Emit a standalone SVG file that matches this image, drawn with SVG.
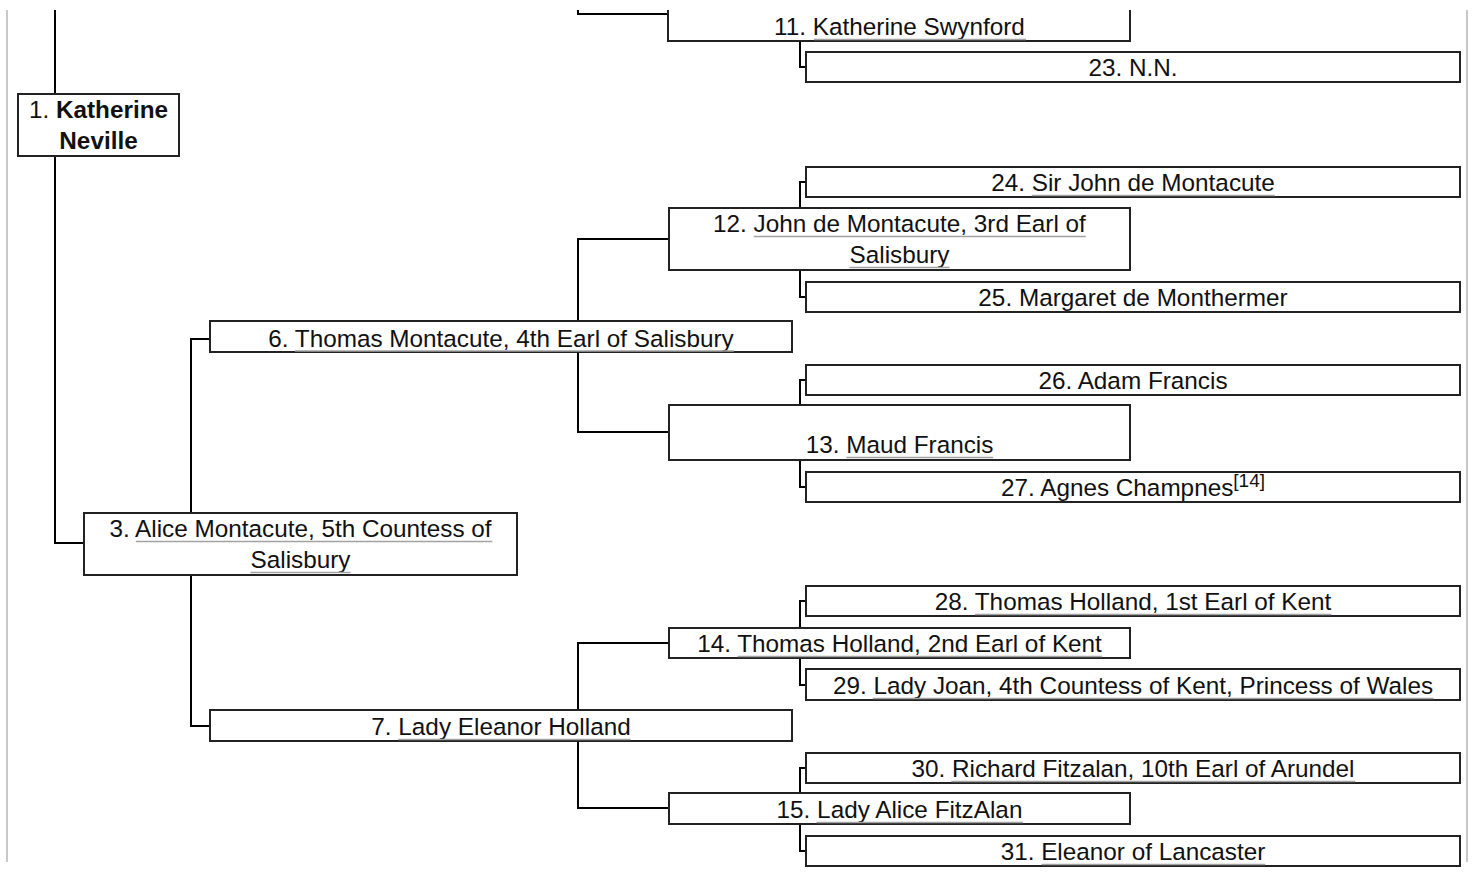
<svg xmlns="http://www.w3.org/2000/svg" width="1473" height="873" viewBox="0 0 1473 873">
<style>
.bx{fill:#fff;stroke:#222;stroke-width:2}
.cn{fill:none;stroke:#000;stroke-width:2}
.bd{fill:none;stroke:#c8c8c8;stroke-width:2}
.t{font-family:"Liberation Sans",Arial,sans-serif;font-size:24.3px;fill:#111;text-anchor:middle}
.b{font-weight:bold}
.ul{stroke:#a2a2a2;stroke-width:1.6}
</style>
<rect width="1473" height="873" fill="#fff"/>
<g id="page-border">
<line class="bd" x1="7" y1="10" x2="7" y2="862"/>
<line class="bd" x1="1467" y1="10" x2="1467" y2="862"/>
</g>
<g id="connectors">
<path class="cn" d="M55,10V93M55,157V543H83"/>
<path class="cn" d="M209,339H191V512M191,576V726H209"/>
<path class="cn" d="M668,239H578V432H668"/>
<path class="cn" d="M668,643H578V808H668"/>
<path class="cn" d="M578,10V14H668"/>
<path class="cn" d="M800,42V67H805"/>
<path class="cn" d="M800,207V182H805M800,271V297H805"/>
<path class="cn" d="M800,404V380H805M800,461V487H805"/>
<path class="cn" d="M800,627V601H805M800,659V685H805"/>
<path class="cn" d="M800,792V768H805M800,825V851H805"/>
</g>
<g id="n1">
<rect class="bx" x="18" y="94" width="161" height="62"/>
<text class="t" x="98.5" y="118">1. <tspan class="b">Katherine</tspan></text>
<text class="t b" x="98.5" y="149">Neville</text>
</g>
<g id="n3">
<rect class="bx" x="84" y="513" width="433" height="62"/>
<text class="t" x="300.5" y="537">3. Alice Montacute, 5th Countess of</text>
<text class="t" x="300.5" y="568">Salisbury</text>
<line class="ul" x1="136" y1="541.5" x2="492.4" y2="541.5"/>
<line class="ul" x1="250.4" y1="572.5" x2="350.6" y2="572.5"/>
</g>
<g id="n6">
<rect class="bx" x="210" y="321" width="582" height="31"/>
<text class="t" x="501" y="347">6. Thomas Montacute, 4th Earl of Salisbury</text>
<line class="ul" x1="295" y1="351" x2="733.9" y2="351"/>
</g>
<g id="n7">
<rect class="bx" x="210" y="710" width="582" height="31"/>
<text class="t" x="501" y="735">7. Lady Eleanor Holland</text>
<line class="ul" x1="398.2" y1="739.5" x2="630.6" y2="739.5"/>
</g>
<g id="n11">
<path class="bx" d="M668,10V41H1130V10"/>
<text class="t" x="899.5" y="35">11. Katherine Swynford</text>
<line class="ul" x1="813.9" y1="39.5" x2="1026.1" y2="39.5"/>
</g>
<g id="n12">
<rect class="bx" x="669" y="208" width="461" height="62"/>
<text class="t" x="899.5" y="232">12. John de Montacute, 3rd Earl of</text>
<text class="t" x="899.5" y="263">Salisbury</text>
<line class="ul" x1="753.7" y1="236.5" x2="1085.8" y2="236.5"/>
<line class="ul" x1="849.4" y1="267.5" x2="949.6" y2="267.5"/>
</g>
<g id="n13">
<rect class="bx" x="669" y="405" width="461" height="55"/>
<text class="t" x="899.5" y="453">13. Maud Francis</text>
<line class="ul" x1="846.3" y1="457.5" x2="993.2" y2="457.5"/>
</g>
<g id="n14">
<rect class="bx" x="669" y="628" width="461" height="30"/>
<text class="t" x="899.5" y="652">14. Thomas Holland, 2nd Earl of Kent</text>
<line class="ul" x1="737.5" y1="656.5" x2="1102" y2="656.5"/>
</g>
<g id="n15">
<rect class="bx" x="669" y="793" width="461" height="31"/>
<text class="t" x="899.5" y="818">15. Lady Alice FitzAlan</text>
<line class="ul" x1="816.5" y1="822.5" x2="1023" y2="822.5"/>
</g>
<g id="n23">
<rect class="bx" x="806" y="52" width="654" height="30"/>
<text class="t" x="1133" y="76">23. N.N.</text>
</g>
<g id="n24">
<rect class="bx" x="806" y="167" width="654" height="30"/>
<text class="t" x="1133" y="191">24. Sir John de Montacute</text>
<line class="ul" x1="1031.8" y1="195.5" x2="1274.8" y2="195.5"/>
</g>
<g id="n25">
<rect class="bx" x="806" y="282" width="654" height="30"/>
<text class="t" x="1133" y="306">25. Margaret de Monthermer</text>
</g>
<g id="n26">
<rect class="bx" x="806" y="365" width="654" height="30"/>
<text class="t" x="1133" y="389">26. Adam Francis</text>
</g>
<g id="n27">
<rect class="bx" x="806" y="472" width="654" height="30"/>
<text class="t" x="1133" y="496">27. Agnes Champnes<tspan font-size="19" dy="-9">[14]</tspan></text>
</g>
<g id="n28">
<rect class="bx" x="806" y="586" width="654" height="30"/>
<text class="t" x="1133" y="610">28. Thomas Holland, 1st Earl of Kent</text>
<line class="ul" x1="975" y1="614.5" x2="1331.5" y2="614.5"/>
</g>
<g id="n29">
<rect class="bx" x="806" y="669" width="654" height="31"/>
<text class="t" x="1133" y="694">29. Lady Joan, 4th Countess of Kent, Princess of Wales</text>
<line class="ul" x1="872.8" y1="698.5" x2="1433.7" y2="698.5"/>
</g>
<g id="n30">
<rect class="bx" x="806" y="753" width="654" height="30"/>
<text class="t" x="1133" y="777">30. Richard Fitzalan, 10th Earl of Arundel</text>
<line class="ul" x1="951.3" y1="781.5" x2="1355.2" y2="781.5"/>
</g>
<g id="n31">
<rect class="bx" x="806" y="836" width="654" height="30"/>
<text class="t" x="1133" y="860">31. Eleanor of Lancaster</text>
<line class="ul" x1="1041.4" y1="864.5" x2="1265.1" y2="864.5"/>
</g>
</svg>
